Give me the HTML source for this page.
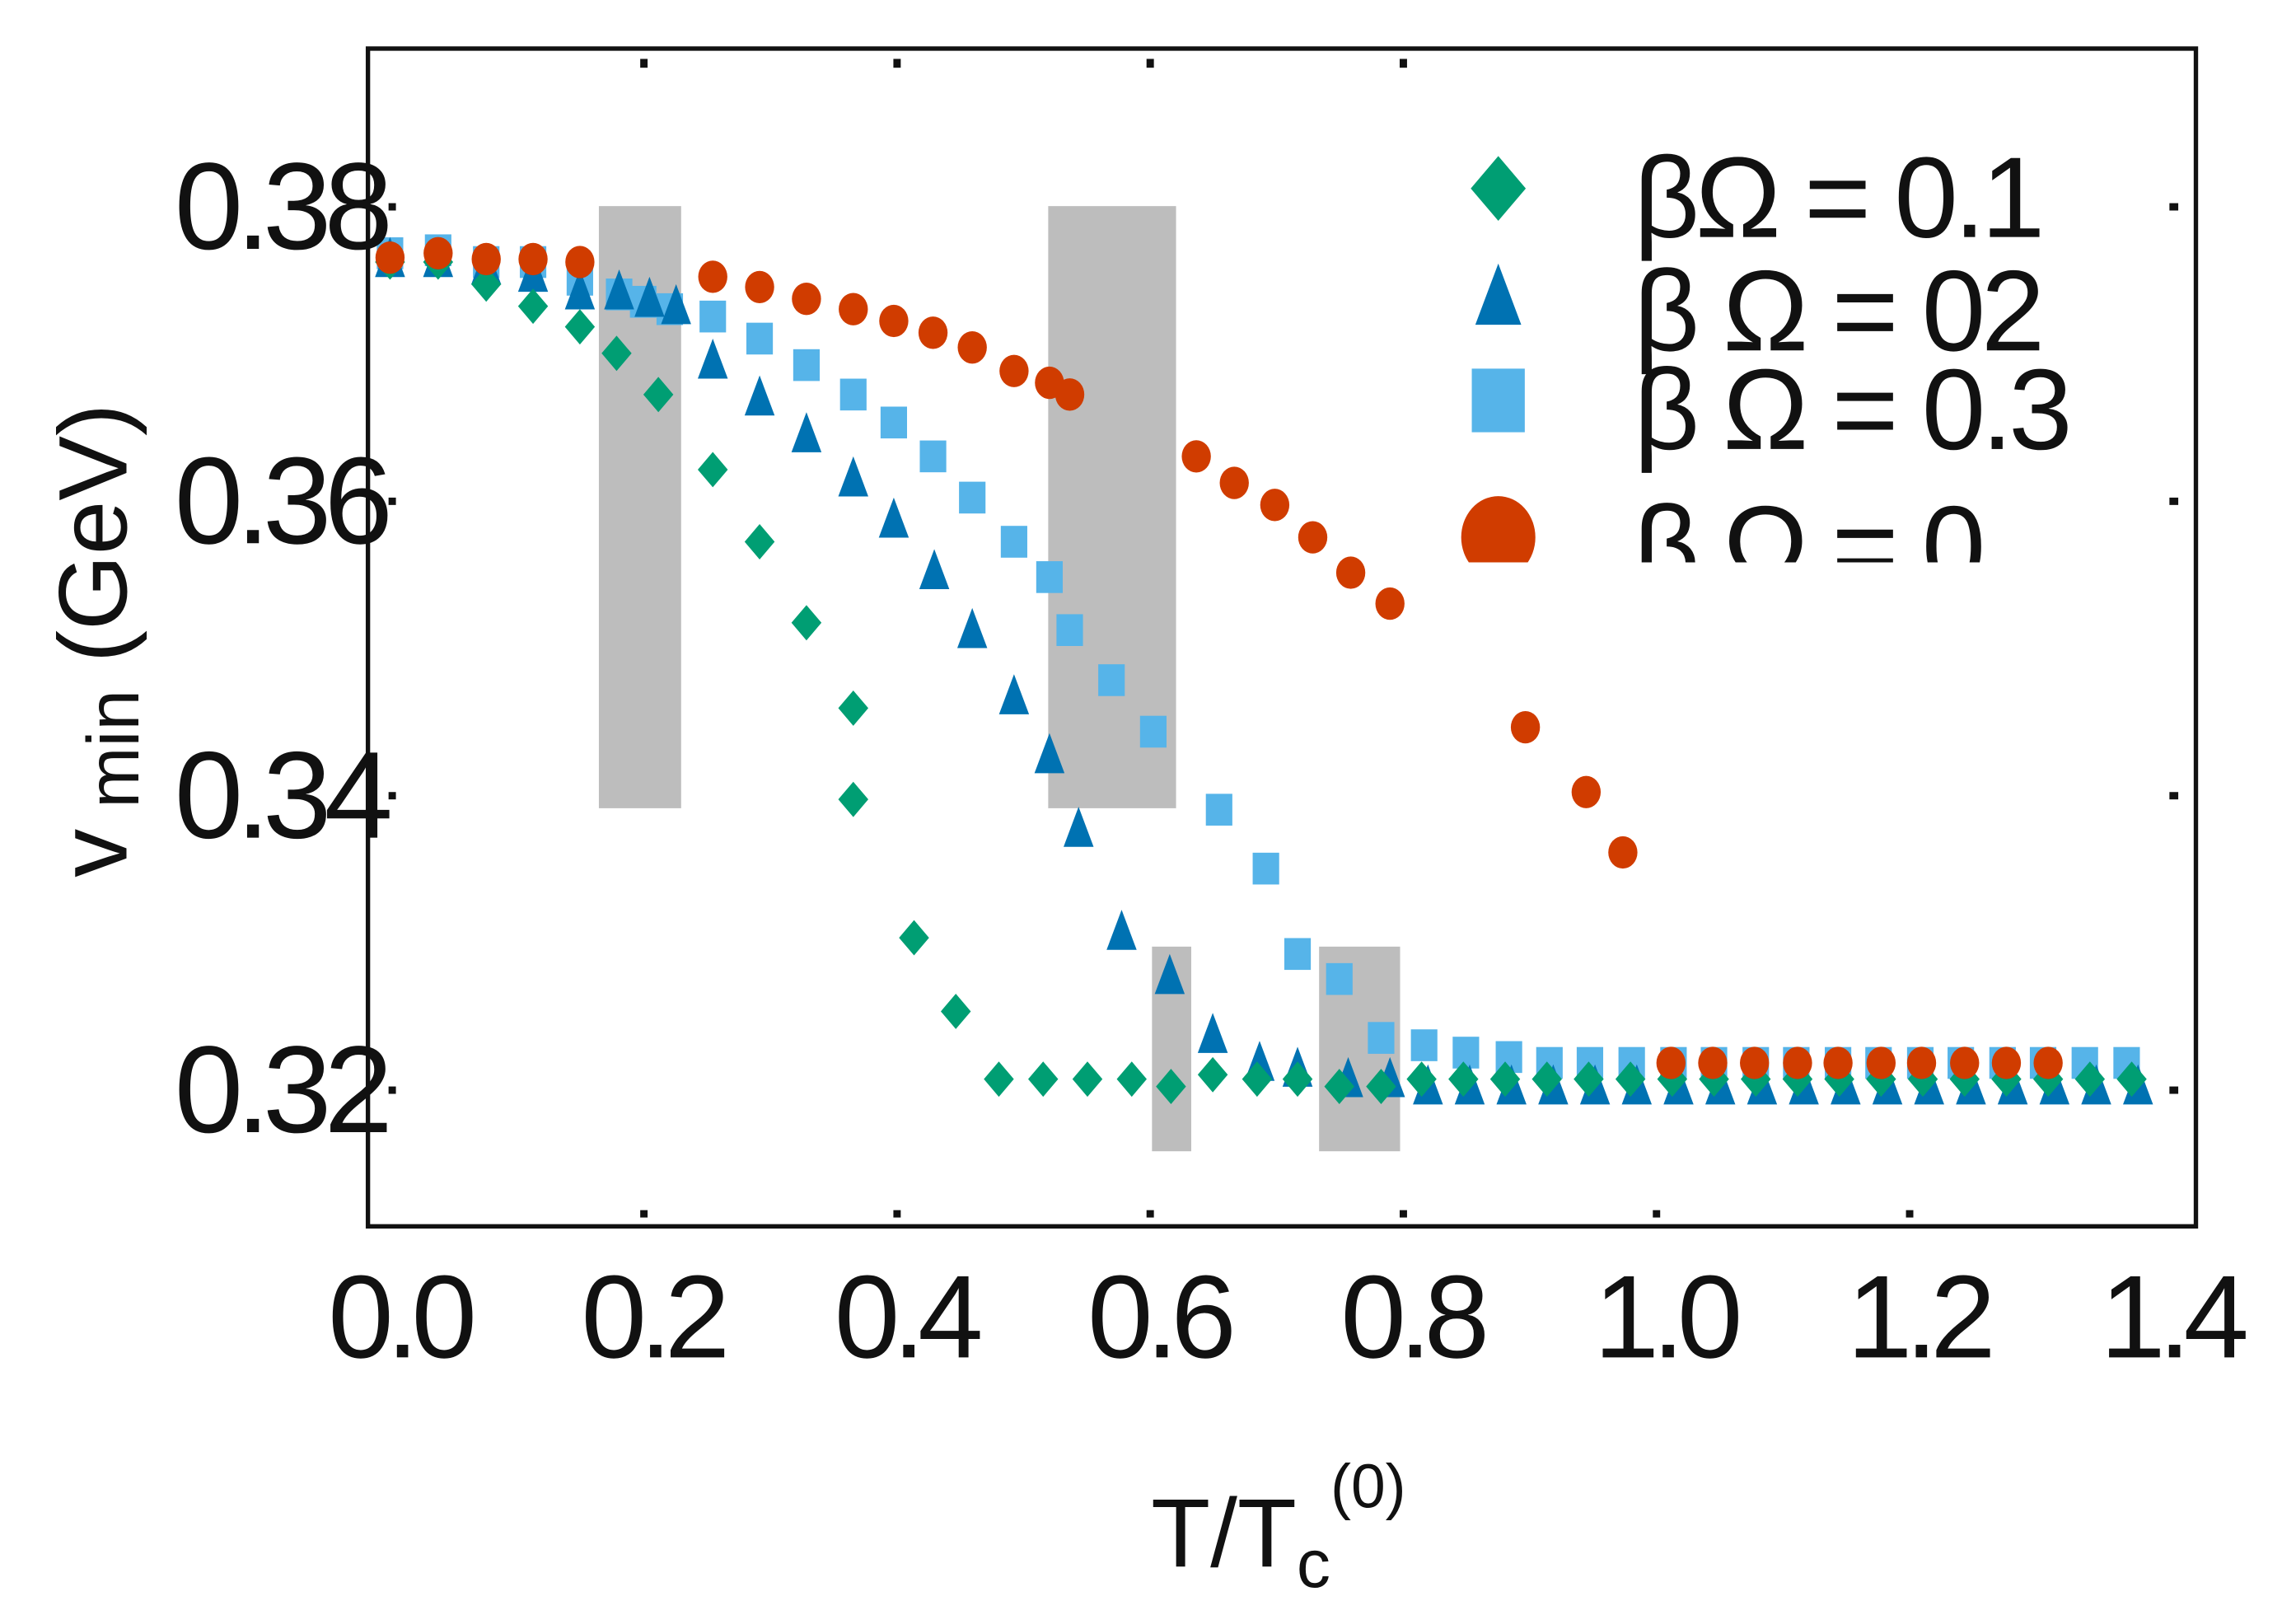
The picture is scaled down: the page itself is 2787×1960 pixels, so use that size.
<!DOCTYPE html>
<html><head><meta charset="utf-8"><style>
html,body{margin:0;padding:0;background:#fff;}
svg{display:block;}
text{font-family:"Liberation Sans",sans-serif;fill:#111;}
</style></head><body>
<svg id="chart" width="2787" height="1960" viewBox="0 0 1560 1097" preserveAspectRatio="none" xmlns="http://www.w3.org/2000/svg">
<defs><clipPath id="legclip"><rect x="960" y="90" width="500" height="292"/></clipPath></defs>
<g id="bands"></g>
<g id="marks"></g>
<rect x="250" y="33" width="1242" height="800" fill="none" stroke="#111" stroke-width="3"/>
<g id="axes"></g>
<text transform="translate(86,435) rotate(-90)" text-anchor="middle" font-size="66">v<tspan font-size="50" dy="8"> min</tspan><tspan dy="-8">  (GeV)</tspan></text>
<text x="782" y="1064" font-size="66">T/T<tspan font-size="46" dy="14">c</tspan><tspan font-size="42" dy="-54">(0)</tspan></text>
<g id="legend" clip-path="url(#legclip)"></g>
</svg>
<script>
const yTicks=[0.32,0.34,0.36,0.38];
const yTickLabels=["0.32","0.34","0.36","0.38"];
const xTicks=[0,0.2,0.4,0.6,0.8,1.0,1.2,1.4];
const xTickLabels=["0.0","0.2","0.4","0.6","0.8","1.0","1.2","1.4"];
const greenT=[0,0.038,0.076,0.113,0.150,0.179,0.212,0.255,0.292,0.329,0.366,0.366,0.414,0.447,0.481,0.516,0.551,0.586,0.617,0.65,0.685,0.717,0.75,0.783,0.815,0.848,0.881,0.914,0.947,0.98,1.013,1.046,1.079,1.112,1.145,1.178,1.211,1.244,1.277,1.31,1.343,1.376];
const greenV=[0.3762,0.3762,0.3747,0.3732,0.3718,0.370,0.3672,0.3621,0.3572,0.3517,0.3459,0.3397,0.3303,0.3253,0.3207,0.3207,0.3207,0.3207,0.3202,0.321,0.3207,0.3207,0.3202,0.3202,0.3207,0.3207,0.3207,0.3207,0.3207,0.3207,0.3207,0.3207,0.3207,0.3207,0.3207,0.3207,0.3207,0.3207,0.3207,0.3207,0.3207,0.3207];
const blueT=[0,0.038,0.076,0.113,0.150,0.181,0.205,0.226,0.255,0.292,0.329,0.366,0.398,0.430,0.460,0.493,0.521,0.544,0.578,0.616,0.650,0.687,0.717,0.757,0.790,0.820,0.853,0.886,0.919,0.952,0.985,1.018,1.051,1.084,1.117,1.150,1.183,1.216,1.249,1.282,1.315,1.348,1.381];
const blueV=[0.3762,0.3762,0.3757,0.3752,0.374,0.374,0.3735,0.373,0.3693,0.3668,0.3643,0.3613,0.3585,0.355,0.351,0.3465,0.3425,0.3375,0.3305,0.3275,0.3235,0.3216,0.3212,0.3205,0.3205,0.3200,0.3200,0.3200,0.3200,0.3200,0.3200,0.3200,0.3200,0.3200,0.3200,0.3200,0.3200,0.3200,0.3200,0.3200,0.3200,0.3200,0.3200];
const skyT=[0,0.038,0.076,0.113,0.150,0.181,0.2,0.221,0.255,0.292,0.329,0.366,0.398,0.429,0.460,0.493,0.521,0.537,0.570,0.603,0.655,0.692,0.717,0.750,0.783,0.817,0.850,0.884,0.916,0.948,0.981,1.014,1.046,1.079,1.111,1.144,1.176,1.209,1.241,1.274,1.306,1.339,1.372];
const skyV=[0.3768,0.377,0.3762,0.3762,0.375,0.374,0.3735,0.373,0.3725,0.371,0.3692,0.3672,0.3653,0.363,0.3602,0.3572,0.3548,0.3512,0.3478,0.3443,0.339,0.335,0.3292,0.3275,0.3235,0.323,0.3225,0.3222,0.3218,0.3218,0.3218,0.3218,0.3218,0.3218,0.3218,0.3218,0.3218,0.3218,0.3218,0.3218,0.3218,0.3218,0.3218];
const redT=[0,0.038,0.076,0.113,0.150,0.255,0.292,0.329,0.366,0.398,0.429,0.460,0.493,0.521,0.537,0.637,0.667,0.699,0.729,0.759,0.790,0.897,0.945,0.974,1.012,1.045,1.078,1.112,1.144,1.178,1.21,1.244,1.277,1.31];
const redV=[0.3765,0.3768,0.3764,0.3764,0.3762,0.3752,0.3745,0.3737,0.373,0.3722,0.3714,0.3704,0.3688,0.368,0.3672,0.363,0.3612,0.3597,0.3575,0.3551,0.353,0.3446,0.3402,0.3361,0.3218,0.3218,0.3218,0.3218,0.3218,0.3218,0.3218,0.3218,0.3218,0.3218];
const bandT0=[0.165,0.52,0.602,0.734];
const bandT1=[0.230,0.621,0.633,0.798];
const bandVlo=[0.3391,0.3391,0.3158,0.3158];
const bandVhi=[0.38,0.38,0.3297,0.3297];
const legendLabels=["βΩ = 0.1","β Ω = 02","β Ω = 0.3","β Ω = 0"];

const NS="http://www.w3.org/2000/svg";
const xs=t=>265+t*860;
const ys=v=>740-(v-0.32)*10000;
function mk(tag,attrs,parent){const e=document.createElementNS(NS,tag);for(const k in attrs)e.setAttribute(k,attrs[k]);parent.appendChild(e);return e;}
const bands=document.getElementById('bands'),marks=document.getElementById('marks'),axes=document.getElementById('axes'),legend=document.getElementById('legend');

bandT0.forEach((t,i)=>{const r=mk('rect',{x:xs(t),y:ys(bandVhi[i]),width:xs(bandT1[i])-xs(t),height:ys(bandVlo[i])-ys(bandVhi[i]),fill:'#bdbdbd'},bands);

});

function square(x,y,s,c,p){return mk('rect',{x:x-s/2,y:y-s*0.6,width:s,height:s*1.2,fill:c},p);}
function tri(x,y,s,c,p){return mk('polygon',{points:`${x},${y-s} ${x-s*0.6},${y+s*0.6} ${x+s*0.6},${y+s*0.6}`,fill:c},p);}
function dia(x,y,s,c,p){return mk('polygon',{points:`${x},${y-s} ${x+s*0.85},${y} ${x},${y+s} ${x-s*0.85},${y}`,fill:c},p);}
function circ(x,y,s,c,p){return mk('ellipse',{cx:x,cy:y,rx:s*0.9,ry:s,fill:c},p);}

const gSky=mk('g',{},marks);
skyT.forEach((t,i)=>{const e=square(xs(t),ys(skyV[i]),18,'#56B4E9',gSky);

});
const gBlue=mk('g',{},marks);
blueT.forEach((t,i)=>{const e=tri(xs(t),ys(blueV[i]),17,'#0072B2',gBlue);

});
const gGreen=mk('g',{},marks);
greenT.forEach((t,i)=>{const e=dia(xs(t),ys(greenV[i]),12,'#009E73',gGreen);

});
const gRed=mk('g',{},marks);
redT.forEach((t,i)=>{const e=circ(xs(t),ys(redV[i]),11,'#D03C00',gRed);

});

yTicks.forEach((v,i)=>{
 const l=mk('text',{x:262,y:ys(v)+29,'text-anchor':'end','font-size':84,'letter-spacing':'-5'},axes);l.textContent=yTickLabels[i];
 
 
 mk('rect',{x:264,y:ys(v)-2,width:5,height:5,fill:'#111'},axes);
 mk('rect',{x:1474,y:ys(v)-2,width:6,height:5,fill:'#111'},axes);
});
xTicks.forEach((t,i)=>{
 const l=mk('text',{x:xs(t)+6,y:922,'text-anchor':'middle','font-size':80,'letter-spacing':'-5'},axes);l.textContent=xTickLabels[i];
 
 
 if(t>0.1&&t<1.35){mk('rect',{x:xs(t)-2,y:822,width:5,height:5,fill:'#111'},axes);
 if(t<0.9)mk('rect',{x:xs(t)-2,y:40,width:5,height:6,fill:'#111'},axes);}
});

const legY=[128,205,272,365];
const legFns=[dia,tri,square,circ];
const legCol=['#009E73','#0072B2','#56B4E9','#D03C00'];
const legS=[22,26,36,28];
legendLabels.forEach((s,i)=>{
 const m=legFns[i](1018,legY[i],legS[i],legCol[i],legend);
 
 
 const tx=mk('text',{x:1110,y:legY[i]+33,'font-size':78,'letter-spacing':'-3'},legend);tx.textContent=s;
 
 
});
</script>
</body></html>
